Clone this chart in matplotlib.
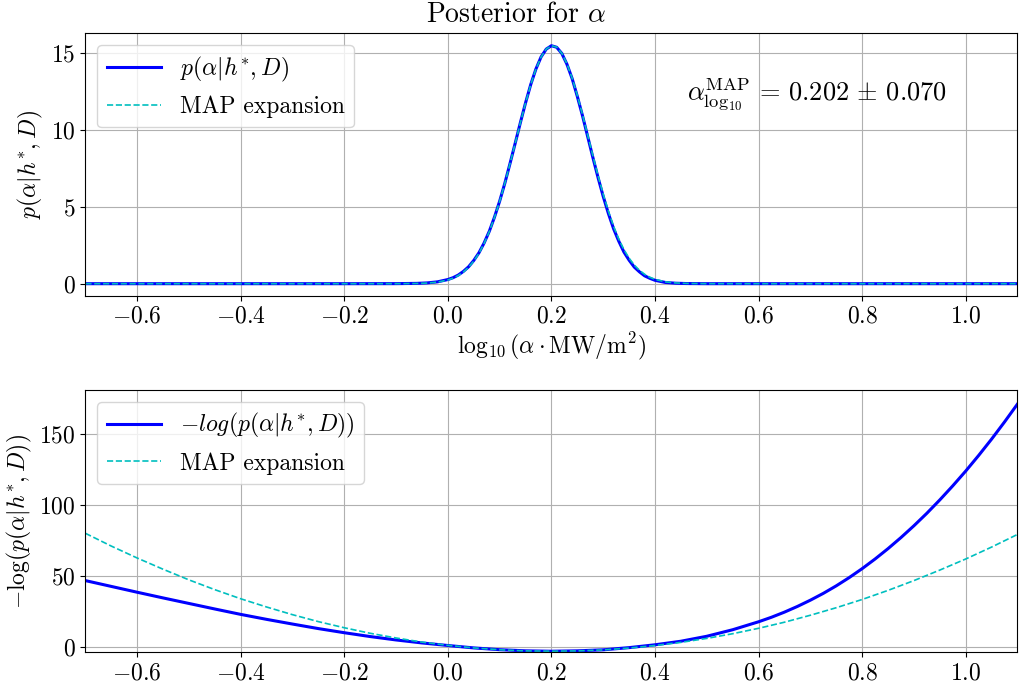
# Posterior for alpha: density (top) and negative log posterior (bottom)
import matplotlib
matplotlib.use("Agg")
import matplotlib.pyplot as plt

plt.rcParams['mathtext.fontset'] = 'cm'
plt.rcParams['font.family'] = 'serif'
plt.rcParams['font.serif'] = ['cmr10', 'DejaVu Serif']
plt.rcParams['axes.formatter.use_mathtext'] = True
plt.rcParams['axes.unicode_minus'] = True

# Top panel: posterior density
x_top = [-0.70, -0.40, -0.20, -0.10, -0.06, -0.04, -0.02, 0.00, 0.01, 0.02, 0.03,
         0.04, 0.05, 0.06, 0.07, 0.08, 0.09, 0.10, 0.11, 0.12, 0.13, 0.14, 0.15,
         0.16, 0.17, 0.18, 0.19, 0.20, 0.21, 0.22, 0.23, 0.24, 0.25, 0.26, 0.27,
         0.28, 0.29, 0.30, 0.31, 0.32, 0.33, 0.34, 0.35, 0.36, 0.37, 0.38, 0.39,
         0.40, 0.42, 0.44, 0.46, 0.50, 0.60, 0.80, 1.00, 1.10]
p_post = [0.0, 0.0, 0.0, 0.003, 0.02, 0.05, 0.12, 0.27, 0.39, 0.56, 0.80,
          1.10, 1.51, 2.01, 2.65, 3.41, 4.33, 5.37, 6.54, 7.82, 9.14, 10.48, 11.77,
          12.96, 13.97, 14.76, 15.27, 15.49, 15.39, 14.99, 14.28, 13.35, 12.19, 10.93, 9.58,
          8.22, 6.91, 5.68, 4.57, 3.58, 2.77, 2.06, 1.53, 1.08, 0.77, 0.51, 0.35,
          0.22, 0.08, 0.03, 0.01, 0.0, 0.0, 0.0, 0.0, 0.0]
p_map = [0.0, 0.0, 0.0, 0.001, 0.014, 0.039, 0.10, 0.24, 0.36, 0.53, 0.76,
         1.07, 1.47, 1.98, 2.62, 3.39, 4.31, 5.36, 6.53, 7.81, 9.13, 10.47, 11.76,
         12.95, 13.96, 14.75, 15.27, 15.49, 15.40, 15.00, 14.31, 13.38, 12.25, 11.00, 9.67,
         8.33, 7.03, 5.82, 4.72, 3.74, 2.91, 2.22, 1.66, 1.21, 0.87, 0.61, 0.42,
         0.28, 0.12, 0.048, 0.017, 0.002, 0.0, 0.0, 0.0, 0.0]

# Bottom panel: negative log posterior
x_nlp = [-0.70, -0.65, -0.60, -0.55, -0.50, -0.45, -0.40, -0.35, -0.30, -0.25,
         -0.20, -0.15, -0.10, -0.05, 0.00, 0.05, 0.10, 0.15, 0.20, 0.25,
         0.30, 0.35, 0.40, 0.45, 0.50, 0.55, 0.60, 0.625, 0.65, 0.675, 0.70,
         0.725, 0.75, 0.775, 0.80, 0.825, 0.85, 0.875, 0.90, 0.925, 0.95,
         0.975, 1.00, 1.025, 1.05, 1.075, 1.10]
nlp_post = [47.0, 42.9, 38.8, 34.8, 30.9, 27.0, 23.2, 19.7, 16.4, 13.2,
            10.3, 7.6, 5.2, 3.1, 1.3, -0.4, -1.65, -2.45, -2.74, -2.45,
            -1.75, -0.2, 1.8, 4.3, 7.8, 12.4, 18.0, 21.2, 24.8, 28.8, 33.2,
            38.0, 43.3, 49.1, 55.4, 62.2, 69.5, 77.3, 85.6, 94.4, 103.8,
            113.7, 124.1, 135.1, 146.6, 158.7, 171.3]
x_map = [-0.70, -0.65, -0.60, -0.55, -0.50, -0.45, -0.40, -0.35, -0.30, -0.25,
         -0.20, -0.15, -0.10, -0.05, 0.00, 0.05, 0.10, 0.15, 0.20, 0.25,
         0.30, 0.35, 0.40, 0.45, 0.50, 0.55, 0.60, 0.65, 0.70, 0.75,
         0.80, 0.85, 0.90, 0.95, 1.00, 1.05, 1.10]
nlp_map = [80.3, 71.3, 62.9, 55.0, 47.5, 40.6, 34.2, 28.4, 23.0, 18.1,
           13.8, 9.9, 6.6, 3.7, 1.4, -0.4, -1.7, -2.5, -2.7, -2.5,
           -1.8, -0.5, 1.3, 3.5, 6.3, 9.6, 13.4, 17.7, 22.6, 27.9,
           33.7, 40.1, 47.0, 54.4, 62.2, 70.6, 79.5]

fig = plt.figure(figsize=(10.19, 6.86), dpi=100)
ax1 = fig.add_axes([0.0838, 0.569, 0.9147, 0.3825])
ax2 = fig.add_axes([0.0838, 0.0491, 0.9147, 0.3824])

# top
ax1.plot(x_top, p_post, 'b-', lw=2.2, label=r'$p(\alpha|h^{*}, D)$')
ax1.plot(x_top, p_map, 'c--', lw=1.2, label='MAP expansion')
ax1.set_xlim(-0.7, 1.1)
ax1.set_ylim(-0.78, 16.3)
ax1.set_yticks([0, 5, 10, 15])
ax1.set_xlabel(r'$\log_{10}(\alpha \cdot \mathrm{MW/m^2})$', fontsize=17, labelpad=2)
ax1.set_ylabel(r'$p(\alpha|h^{*}, D)$', fontsize=17)
ax1.text(0.462, 12.4, r'$\alpha_{\log_{10}}^{\mathrm{MAP}}\,=\,0.202\,\pm\,0.070$',
         fontsize=19, ha='left', va='center')
ax1.grid(True)
ax1.legend(loc='upper left', fontsize=17, handlelength=2.3)

# bottom
ax2.plot(x_nlp, nlp_post, 'b-', lw=2.2, label=r'$-log(p(\alpha|h^{*}, D))$')
ax2.plot(x_map, nlp_map, 'c--', lw=1.2, label='MAP expansion')
ax2.set_xlim(-0.7, 1.1)
ax2.set_ylim(-3.5, 181.2)
ax2.set_yticks([0, 50, 100, 150])
ax2.set_ylabel(r'$-\log(p(\alpha|h^{*}, D))$', fontsize=17)
ax2.grid(True)
ax2.legend(loc='upper left', fontsize=17, handlelength=2.3)

for ax in (ax1, ax2):
    ax.set_xticks([-0.6, -0.4, -0.2, 0.0, 0.2, 0.4, 0.6, 0.8, 1.0])
    ax.tick_params(labelsize=17)

fig.text(0.507, 0.9684, r'Posterior for $\alpha$', fontsize=20, ha='center', va='baseline')

fig.savefig('out.png', dpi=100)
